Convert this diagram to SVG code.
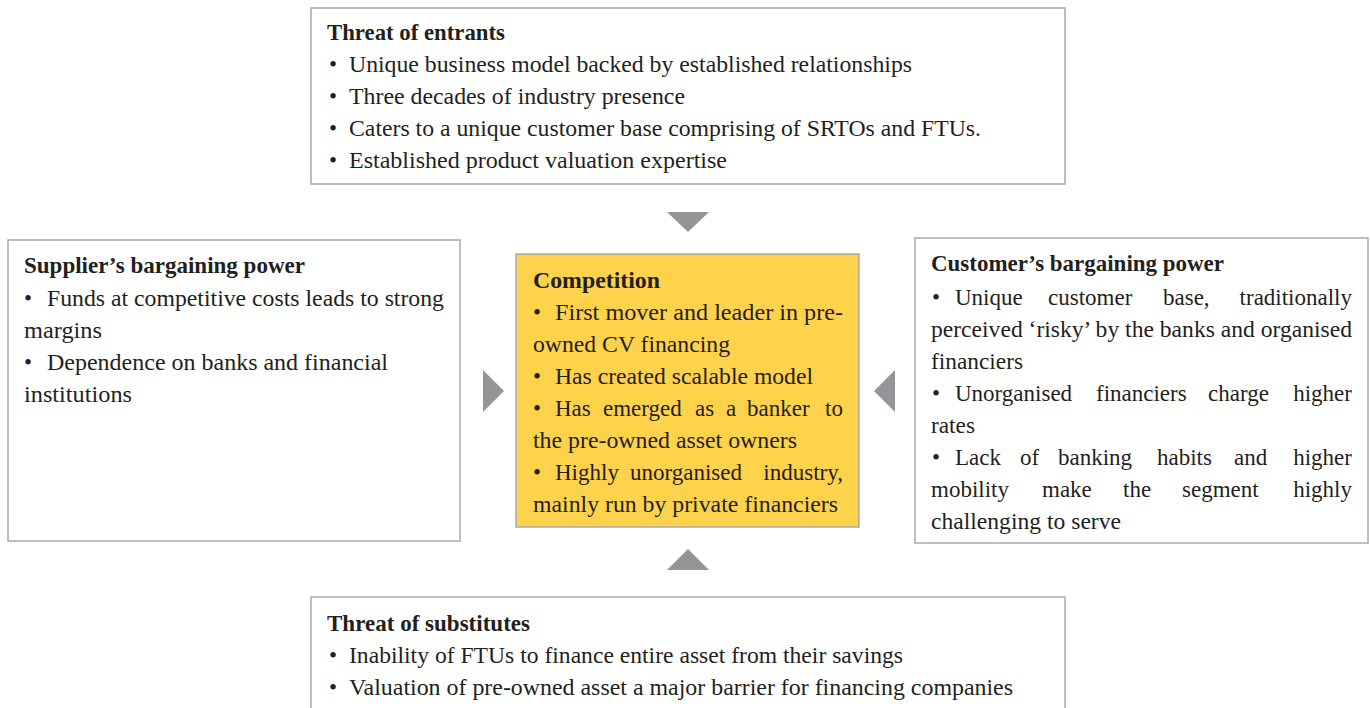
<svg xmlns="http://www.w3.org/2000/svg" width="1370" height="708" viewBox="0 0 1370 708">
  <defs>
    <style>
      .box { fill: #ffffff; stroke: #a7a9ac; stroke-width: 1.5; }
      .core { fill: #ffd24c; stroke: #a7a9ac; stroke-width: 1.5; }
      .t { font-family: "Liberation Serif", "DejaVu Serif", serif; font-size: 23px; fill: #231f20; }
      .h { font-family: "Liberation Serif", "DejaVu Serif", serif; font-size: 23px; font-weight: bold; fill: #231f20; }
      .e { text-anchor: end; }
      .arrow { fill: #939598; }
    </style>
  </defs>
  <rect width="1370" height="708" fill="#ffffff"/>

  <!-- pointers toward the centre box -->
  <g id="connectors">
    <polygon class="arrow" points="667,212 709,212 688,232"/>
    <polygon class="arrow" points="667,570 709,570 688,549"/>
    <polygon class="arrow" points="483,370 483,412 504,391"/>
    <polygon class="arrow" points="895,370 895,412 874,391"/>
  </g>

  <g id="threat-of-entrants">
    <rect class="box" x="311" y="8" width="754" height="176"/>
    <text class="h" x="327" y="40" textLength="178" lengthAdjust="spacingAndGlyphs">Threat of entrants</text>
    <text class="t" x="329" y="72">•</text>
    <text class="t" x="349" y="72" textLength="563" lengthAdjust="spacingAndGlyphs">Unique business model backed by established relationships</text>
    <text class="t" x="329" y="104">•</text>
    <text class="t" x="349" y="104" textLength="336" lengthAdjust="spacingAndGlyphs">Three decades of industry presence</text>
    <text class="t" x="329" y="136">•</text>
    <text class="t" x="349" y="136" textLength="632" lengthAdjust="spacingAndGlyphs">Caters to a unique customer base comprising of SRTOs and FTUs.</text>
    <text class="t" x="329" y="168">•</text>
    <text class="t" x="349" y="168" textLength="378" lengthAdjust="spacingAndGlyphs">Established product valuation expertise</text>
  </g>

  <g id="suppliers-power">
    <rect class="box" x="8" y="240" width="452" height="301"/>
    <text class="h" x="24" y="273" textLength="281" lengthAdjust="spacingAndGlyphs">Supplier’s bargaining power</text>
    <text class="t" x="24" y="306">•</text>
    <text class="t" x="47" y="306" textLength="397" lengthAdjust="spacingAndGlyphs">Funds at competitive costs leads to strong</text>
    <text class="t" x="24" y="338" textLength="78" lengthAdjust="spacingAndGlyphs">margins</text>
    <text class="t" x="24" y="370">•</text>
    <text class="t" x="47" y="370" textLength="341" lengthAdjust="spacingAndGlyphs">Dependence on banks and financial</text>
    <text class="t" x="24" y="402" textLength="108" lengthAdjust="spacingAndGlyphs">institutions</text>
  </g>

  <g id="competition">
    <rect class="core" x="516" y="254" width="343" height="273"/>
    <text class="h" x="533" y="288" textLength="127" lengthAdjust="spacingAndGlyphs">Competition</text>
    <text class="t" x="533" y="320">•</text>
    <text class="t" x="555" y="320" textLength="288" lengthAdjust="spacingAndGlyphs">First mover and leader in pre-</text>
    <text class="t" x="533" y="352" textLength="197" lengthAdjust="spacingAndGlyphs">owned CV financing</text>
    <text class="t" x="533" y="384">•</text>
    <text class="t" x="555" y="384" textLength="258" lengthAdjust="spacingAndGlyphs">Has created scalable model</text>
    <text class="t" y="416"><tspan x="533">•</tspan><tspan x="555">Has</tspan><tspan x="603">emerged</tspan><tspan x="695">as</tspan><tspan x="726">a</tspan><tspan x="747">banker</tspan></text>
    <text class="t e" x="843" y="416">to</text>
    <text class="t" x="533" y="448" textLength="264" lengthAdjust="spacingAndGlyphs">the pre-owned asset owners</text>
    <text class="t" y="480"><tspan x="533">•</tspan><tspan x="555">Highly</tspan><tspan x="630">unorganised</tspan></text>
    <text class="t e" x="843" y="480">industry,</text>
    <text class="t" x="533" y="512" textLength="305" lengthAdjust="spacingAndGlyphs">mainly run by private financiers</text>
  </g>

  <g id="customers-power">
    <rect class="box" x="915" y="238" width="453" height="305"/>
    <text class="h" x="931" y="271" textLength="293" lengthAdjust="spacingAndGlyphs">Customer’s bargaining power</text>
    <text class="t" y="305"><tspan x="932">•</tspan><tspan x="955">Unique</tspan><tspan x="1048">customer</tspan><tspan x="1163">base,</tspan></text>
    <text class="t e" x="1352" y="305">traditionally</text>
    <text class="t" x="931" y="337" textLength="421" lengthAdjust="spacingAndGlyphs">perceived ‘risky’ by the banks and organised</text>
    <text class="t" x="931" y="369" textLength="92" lengthAdjust="spacingAndGlyphs">financiers</text>
    <text class="t" y="401"><tspan x="932">•</tspan><tspan x="955">Unorganised</tspan><tspan x="1096">financiers</tspan><tspan x="1208">charge</tspan></text>
    <text class="t e" x="1352" y="401">higher</text>
    <text class="t" x="931" y="433" textLength="44" lengthAdjust="spacingAndGlyphs">rates</text>
    <text class="t" y="465"><tspan x="932">•</tspan><tspan x="955">Lack</tspan><tspan x="1020">of</tspan><tspan x="1058">banking</tspan><tspan x="1157">habits</tspan><tspan x="1234">and</tspan></text>
    <text class="t e" x="1352" y="465">higher</text>
    <text class="t" y="497"><tspan x="931">mobility</tspan><tspan x="1042">make</tspan><tspan x="1123">the</tspan><tspan x="1182">segment</tspan></text>
    <text class="t e" x="1352" y="497">highly</text>
    <text class="t" x="931" y="529" textLength="190" lengthAdjust="spacingAndGlyphs">challenging to serve</text>
  </g>

  <g id="threat-of-substitutes">
    <rect class="box" x="311" y="597" width="754" height="130"/>
    <text class="h" x="327" y="631" textLength="203" lengthAdjust="spacingAndGlyphs">Threat of substitutes</text>
    <text class="t" x="329" y="663">•</text>
    <text class="t" x="349" y="663" textLength="554" lengthAdjust="spacingAndGlyphs">Inability of FTUs to finance entire asset from their savings</text>
    <text class="t" x="329" y="695">•</text>
    <text class="t" x="349" y="695" textLength="664" lengthAdjust="spacingAndGlyphs">Valuation of pre-owned asset a major barrier for financing companies</text>
  </g>
</svg>
